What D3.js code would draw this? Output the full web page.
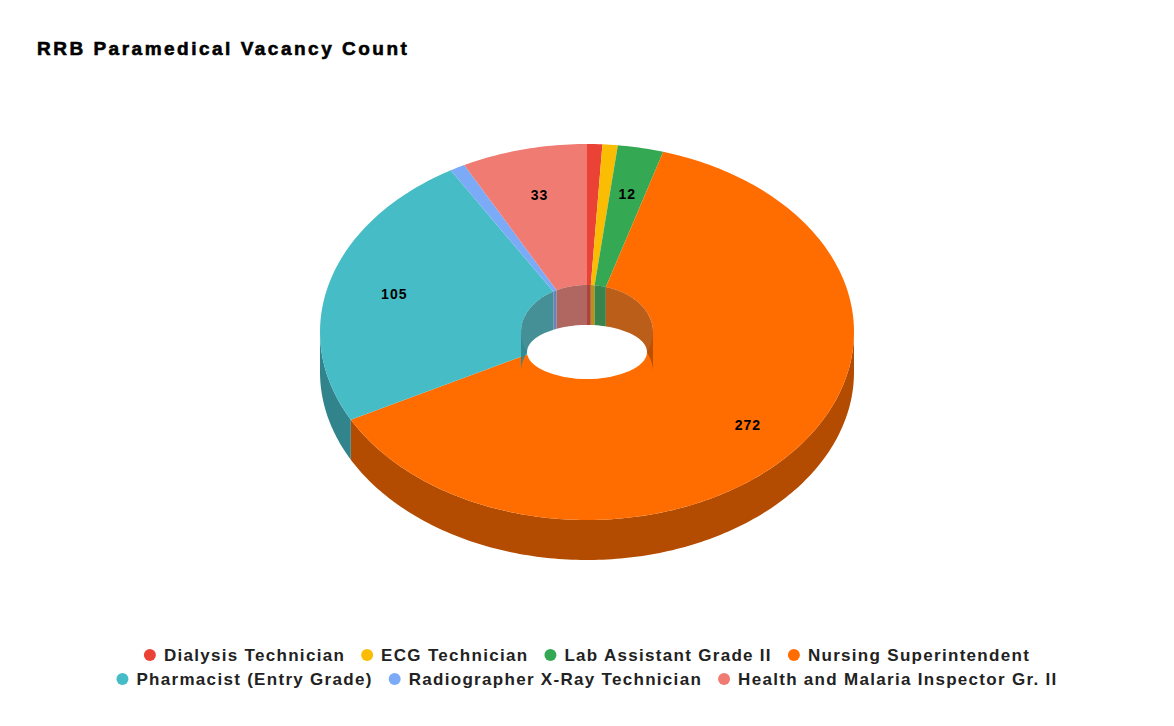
<!DOCTYPE html>
<html><head><meta charset="utf-8">
<script src="https://cdn.jsdelivr.net/npm/d3@7"></script>
<style>body{margin:0;background:#fff;font-family:"Liberation Sans",Arial,sans-serif}</style>
</head><body><svg id="c" width="1174" height="726"></svg>
<script>
var categories = ["Dialysis Technician","ECG Technician","Lab Assistant Grade II","Nursing Superintendent","Pharmacist (Entry Grade)","Radiographer X-Ray Technician","Health and Malaria Inspector Gr. II"];
var values = [4,4,12,272,105,4,33];
var colors = ["#ea4335","#fbbc04","#34a853","#ff6d01","#46bdc6","#7baaf7","#f07b72"];

var svg = d3.select('#c');
var cx=587, cy=332, rx=267, ry=188, irx=66, iry=47, depth=40;
var color = d3.scaleOrdinal().domain(categories).range(colors);
var dark = function(c){return d3.rgb(c).darker(1.0);};
var pie = d3.pie().sort(null).value(function(d){return d.v;});
var arcs = pie(categories.map(function(c,i){return {c:c,v:values[i]};}));

var pt = function(a,r1,r2,dy){return [cx+r1*Math.sin(a), cy-r2*Math.cos(a)+(dy||0)];};
var samp = function(a0,a1){var n=Math.max(2,Math.ceil((a1-a0)*60));return d3.range(n+1).map(function(i){return a0+(a1-a0)*i/n;});};
var line = d3.line();

svg.append('text').attr('x',37).attr('y',55).attr('font-size',19).attr('font-weight','bold').attr('letter-spacing',2.5).attr('stroke','#000').attr('stroke-width',0.6).text('RRB Paramedical Vacancy Count');

var g = svg.append('g');
// outer side walls (front half)
arcs.forEach(function(d){
  var a0=Math.max(d.startAngle,Math.PI/2), a1=Math.min(d.endAngle,Math.PI*1.5);
  if(a1<=a0) return;
  var s=samp(a0,a1);
  var p=s.map(function(a){return pt(a,rx,ry,0);}).concat(s.slice().reverse().map(function(a){return pt(a,rx,ry,depth);}));
  g.append('path').attr('d',line(p)+'Z').attr('fill',dark(color(d.data.c)));
});
// top faces
arcs.forEach(function(d){
  var s=samp(d.startAngle,d.endAngle);
  var p=s.map(function(a){return pt(a,rx,ry);}).concat(s.slice().reverse().map(function(a){return pt(a,irx,iry);}));
  g.append('path').attr('d',line(p)+'Z').attr('fill',color(d.data.c));
});
// inner walls (back half of hole)
arcs.forEach(function(d){
  var parts=[[Math.max(d.startAngle,0),Math.min(d.endAngle,Math.PI/2)],[Math.max(d.startAngle,Math.PI*1.5),Math.min(d.endAngle,Math.PI*2)]];
  parts.forEach(function(pr){
    if(pr[1]<=pr[0]) return;
    var s=samp(pr[0],pr[1]);
    var p=s.map(function(a){return pt(a,irx,iry,0);}).concat(s.slice().reverse().map(function(a){return pt(a,irx,iry,depth);}));
    g.append('path').attr('d',line(p)+'Z').attr('fill',dark(color(d.data.c))).attr('opacity',0.9);
  });
});
g.append('ellipse').attr('cx',cx).attr('cy',cy+20).attr('rx',60).attr('ry',27).attr('fill','#fff');

// labels
arcs.forEach(function(d){
  if(d.data.v<10) return;
  var m=(d.startAngle+d.endAngle)/2, f=d.data.v>100?0.78:0.75;
  if(d.data.v===105) f=0.75;
  var p=pt(m,rx*f,ry*f);
  svg.append('text').attr('x',p[0]).attr('y',p[1]+5).attr('text-anchor','middle').attr('font-size',14).attr('font-weight','bold').attr('letter-spacing',1).text(d.data.v);
});

// legend
var rows=[[0,1,2,3],[4,5,6]], ys=[655,679];
rows.forEach(function(r,ri){
  var lg=svg.append('g');
  var x=0;
  r.forEach(function(i){
    lg.append('circle').attr('cx',x+6).attr('cy',ys[ri]).attr('r',6).attr('fill',colors[i]);
    var t=lg.append('text').attr('x',x+20).attr('y',ys[ri]+6).attr('font-size',17).attr('font-weight','bold').attr('letter-spacing',1.3).attr('fill','#222').text(categories[i]);
    x+=20+t.node().getComputedTextLength()+16;
  });
  x-=16;
  lg.attr('transform','translate('+(587-x/2)+',0)');
});
</script></body></html>
